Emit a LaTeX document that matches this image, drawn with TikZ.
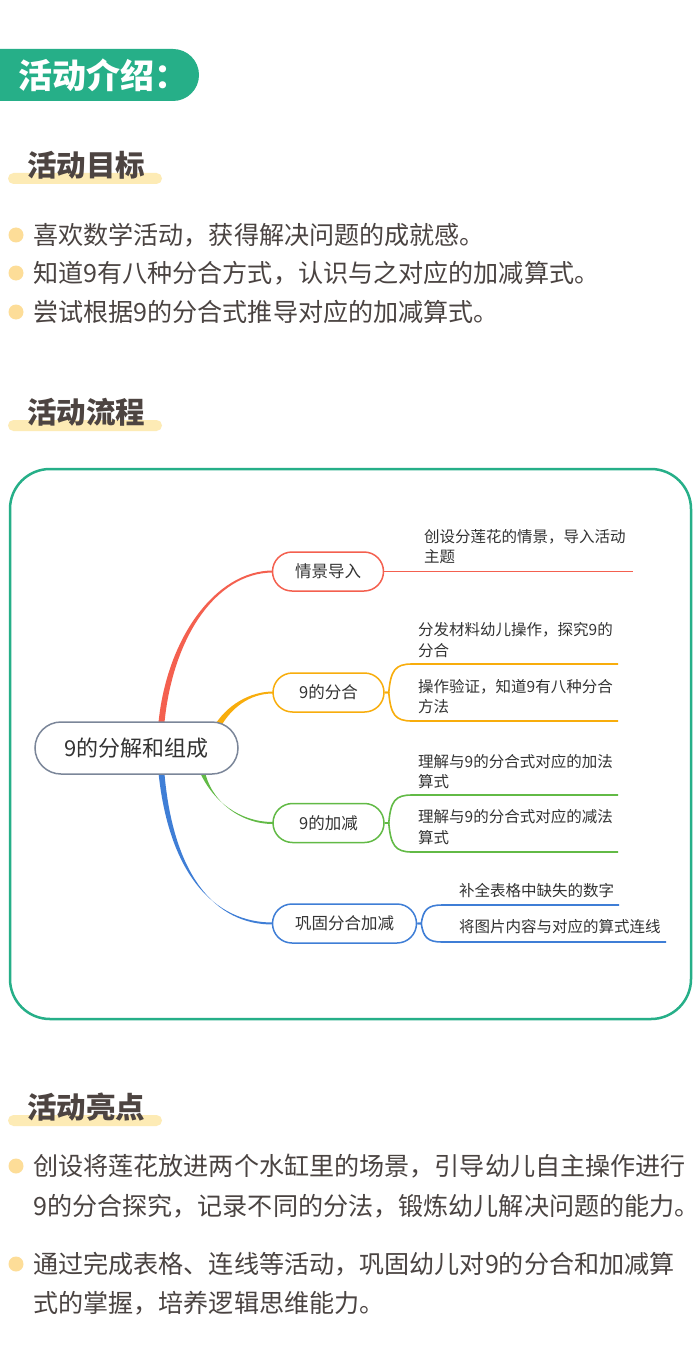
\documentclass[tikz,border=0pt]{standalone}
\usepackage{fontspec}
\setmainfont{Noto Sans CJK SC}
\definecolor{tabc}{RGB}{38,175,136}
\definecolor{hdrc}{RGB}{77,68,65}
\definecolor{txtc}{RGB}{74,67,65}
\definecolor{barc}{RGB}{253,235,181}
\definecolor{dotc}{RGB}{253,221,152}
\definecolor{redc}{RGB}{244,96,79}
\definecolor{orc}{RGB}{248,173,12}
\definecolor{grc}{RGB}{98,186,70}
\definecolor{blc}{RGB}{63,126,214}
\definecolor{rootc}{RGB}{123,134,153}
\definecolor{mmtext}{RGB}{51,51,51}
\begin{document}
\begin{tikzpicture}[x=1pt,y=-1pt,
  hdr/.style={anchor=west,inner sep=0,font=\fontsize{29.5}{29.5}\selectfont\bfseries,text=hdrc},
  hbar/.style={fill=barc,rounded corners=5.5pt},
  bdot/.style={circle,fill=dotc,minimum size=15pt,inner sep=0},
  btxt/.style={anchor=west,inner sep=0,font=\fontsize{25.1}{25.1}\selectfont,text=txtc},
  topic/.style={draw,line width=1.5pt,rounded corners=19.5pt,minimum width=111pt,minimum height=39pt,fill=white,inner sep=0,font=\fontsize{16.5}{16.5}\selectfont,text=mmtext},
  leaf/.style={anchor=west,inner sep=0,align=left,font=\fontsize{15.5}{20.5}\selectfont,text=mmtext},
  bline/.style={line width=1.6pt}]
\useasboundingbox (0,0) rectangle (700,1364);
\fill[white] (0,0) rectangle (700,1364);
% tab
\fill[tabc,rounded corners=26pt] (-40,49) rectangle (199,101);
\node[anchor=west,inner sep=0,text=white,font=\fontsize{34}{34}\selectfont\bfseries] (tab) at (18,75) {活动介绍：};
% section 1
\fill[hbar] (8,173) rectangle (162,184);
\node[hdr] (h1) at (27,165) {活动目标};
\node[bdot] (d1) at (16,235) {};
\node[btxt] (b1) at (33,235) {喜欢数学活动，获得解决问题的成就感。};
\node[bdot] (d2) at (16,273) {};
\node[btxt] (b2) at (33,273) {知道9有八种分合方式，认识与之对应的加减算式。};
\node[bdot] (d3) at (16,312) {};
\node[btxt] (b3) at (33,312) {尝试根据9的分合式推导对应的加减算式。};
% section 2
\fill[hbar] (8,420) rectangle (162,431);
\node[hdr] (h2) at (27,412) {活动流程};
\draw[tabc,line width=2.5pt,rounded corners=40pt] (10,469) rectangle (691,1019);
% mind map node anchors
\coordinate (t1w) at (273,571.5);
\coordinate (t2w) at (273,692.5);
\coordinate (t3w) at (273,823);
\coordinate (t4w) at (273,923.5);
% tapered branches
\fill[redc] (158,728) .. controls (165,640) and (215,570.4) .. ([yshift=1pt]t1w) -- ([yshift=-1pt]t1w) .. controls (215,572.6) and (171,640) .. (164,728) -- cycle;
\fill[orc] (213,728) .. controls (226,705) and (250,691.6) .. ([yshift=1pt]t2w) -- ([yshift=-1pt]t2w) .. controls (250,693.4) and (230,708) .. (219,730) -- cycle;
\fill[grc] (198,768) .. controls (212,802) and (240,822) .. ([yshift=1pt]t3w) -- ([yshift=-1pt]t3w) .. controls (240,824) and (208,800) .. (204,766) -- cycle;
\fill[blc] (158,768) .. controls (168,875) and (215,922.8) .. ([yshift=1pt]t4w) -- ([yshift=-1pt]t4w) .. controls (215,924.8) and (172,875) .. (164,768) -- cycle;
% root
\node[draw=rootc,line width=1.5pt,rounded corners=26pt,minimum width=203pt,minimum height=52pt,fill=white,inner sep=0,font=\fontsize{22}{22}\selectfont,text=mmtext] (root) at (136.5,748) {9的分解和组成};
\node[topic,draw=redc] (t1) at (328,571.5) {情景导入};
\node[topic,draw=orc] (t2) at (328.5,692.5) {9的分合};
\node[topic,draw=grc] (t3) at (328.5,823) {9的加减};
\node[topic,draw=blc,minimum width=144pt] (t4) at (344.5,923.5) {巩固分合加减};
% leaves of t1
\coordinate (e1) at (633,571.5);
\draw[draw=redc,bline] (t1.east) -- (e1);
\node[leaf] (l1) at (424,546.5) {创设分莲花的情景，导入活动\\主题};
% leaves of t2
\coordinate (e2a) at (618,664);
\coordinate (e2b) at (618,721);
\draw[orc,bline] (t2.east) -- ++(4,0) .. controls +(2,-22) and (395,664) .. (412,664) -- (e2a);
\draw[orc,bline] (t2.east) -- ++(4,0) .. controls +(2,22) and (395,721) .. (412,721) -- (e2b);
\node[leaf] (l2a) at (418,640) {分发材料幼儿操作，探究9的\\分合};
\node[leaf] (l2b) at (418,696.5) {操作验证，知道9有八种分合\\方法};
% leaves of t3
\coordinate (e3a) at (618,795);
\coordinate (e3b) at (618,852);
\draw[grc,bline] (t3.east) -- ++(4,0) .. controls +(2,-22) and (395,795) .. (412,795) -- (e3a);
\draw[grc,bline] (t3.east) -- ++(4,0) .. controls +(2,22) and (395,852) .. (412,852) -- (e3b);
\node[leaf] (l3a) at (418,771.5) {理解与9的分合式对应的加法\\算式};
\node[leaf] (l3b) at (418,827) {理解与9的分合式对应的减法\\算式};
% leaves of t4
\coordinate (e4a) at (619,905);
\coordinate (e4b) at (666,942);
\draw[blc,bline] (t4.east) -- ++(4,0) .. controls +(2,-14) and (428,905) .. (442,905) -- (e4a);
\draw[blc,bline] (t4.east) -- ++(4,0) .. controls +(2,14) and (428,942) .. (442,942) -- (e4b);
\node[leaf] (l4a) at (459,891) {补全表格中缺失的数字};
\node[leaf] (l4b) at (459,927) {将图片内容与对应的算式连线};
% section 3
\fill[hbar] (8,1115) rectangle (162,1126);
\node[hdr] (h3) at (27,1107) {活动亮点};
\node[bdot] (d4) at (16,1166) {};
\node[btxt] (b4) at (33,1166) {创设将莲花放进两个水缸里的场景，引导幼儿自主操作进行};
\node[btxt] (b5) at (33,1206) {9的分合探究，记录不同的分法，锻炼幼儿解决问题的能力。};
\node[bdot] (d5) at (16,1264) {};
\node[btxt] (b6) at (33,1264) {通过完成表格、连线等活动，巩固幼儿对9的分合和加减算};
\node[btxt] (b7) at (33,1303) {式的掌握，培养逻辑思维能力。};
\end{tikzpicture}
\end{document}
